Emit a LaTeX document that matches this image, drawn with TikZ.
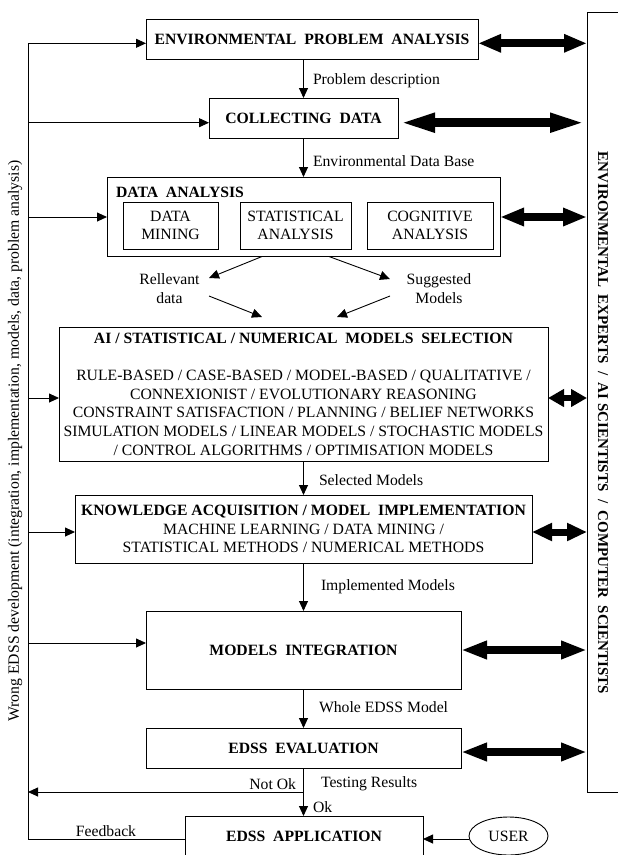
\documentclass[tikz,border=0pt]{standalone}
\usepackage{fontspec}
\setmainfont{Liberation Serif}
\usetikzlibrary{arrows.meta,shapes.geometric,calc}
\begin{document}
\begin{tikzpicture}[x=1pt,y=-1pt,
  every node/.style={font=\fontsize{15.7}{18.7}\selectfont, inner sep=0pt, outer sep=0pt},
  box/.style={draw, line width=0.9pt, align=center},
  lbl/.style={anchor=west},
  ln/.style={line width=0.9pt},
  arr/.style={line width=0.9pt, -{Triangle[length=10pt,width=9pt]}},
  dbl/.style={line width=8pt, {Triangle[length=#1,width=17pt]}-{Triangle[length=#1,width=17pt]}},
  dbl/.default=25pt]
\useasboundingbox (0,0) rectangle (618,855);

% right panel
\node[draw, line width=0.9pt, anchor=north west, minimum width=45pt, minimum height=779.3pt] (panel) at (587,12.7) {};
\node[rotate=-90, font=\fontsize{15}{18}\selectfont\bfseries] (paneltext) at (603,423)
  {ENVIRONMENTAL\ \ EXPERTS\ \ /\ \ AI SCIENTISTS\ \ /\ \ COMPUTER\ \ SCIENTISTS};

% left rotated text
\node[rotate=90] (wrong) at (15,441)
  {Wrong EDSS development (integration, implementation, models, data, problem analysis)};

% boxes
\node[box, minimum width=332pt, minimum height=40pt] (env) at (312,39)
  {\textbf{ENVIRONMENTAL\ \ PROBLEM\ \ ANALYSIS}};
\node[box, minimum width=189pt, minimum height=40pt] (coll) at (303.5,118)
  {\textbf{COLLECTING\ \ DATA}};
\node[box, minimum width=393pt, minimum height=79pt] (da) at (303.5,216.5) {};
\node[anchor=west] (datitle) at (116,192) {\textbf{DATA\ \ ANALYSIS}};
\node[box, minimum width=95pt, minimum height=47pt] (dm) at (170.5,225.5) {DATA\\MINING};
\node[box, minimum width=111pt, minimum height=47pt] (sa) at (295.5,225.5) {STATISTICAL\\ANALYSIS};
\node[box, minimum width=126pt, minimum height=47pt] (ca) at (430,225.5) {COGNITIVE\\ANALYSIS};

\node[align=center] (rel) at (169.5,288.5) {Rellevant\\data};
\node[align=center] (sug) at (439,288.5) {Suggested\\Models};

\node[box, minimum width=489pt, minimum height=134pt] (ai) at (303.5,394)
  {\textbf{AI / STATISTICAL / NUMERICAL\ \ MODELS\ \ SELECTION}\\[18.7pt]
   RULE-BASED / CASE-BASED / MODEL-BASED / QUALITATIVE /\\
   CONNEXIONIST / EVOLUTIONARY REASONING\\
   CONSTRAINT SATISFACTION / PLANNING / BELIEF NETWORKS\\
   SIMULATION MODELS / LINEAR MODELS / STOCHASTIC MODELS\\
   / CONTROL ALGORITHMS / OPTIMISATION MODELS};
\node[box, minimum width=457pt, minimum height=68pt] (kn) at (303.5,529)
  {\textbf{KNOWLEDGE ACQUISITION / MODEL\ \ IMPLEMENTATION}\\
   MACHINE LEARNING / DATA MINING /\\
   STATISTICAL METHODS / NUMERICAL METHODS};
\node[box, minimum width=315pt, minimum height=78pt] (mi) at (303.5,650)
  {\textbf{MODELS\ \ INTEGRATION}};
\node[box, minimum width=315pt, minimum height=40pt] (ev) at (303.5,748)
  {\textbf{EDSS\ \ EVALUATION}};
\node[box, minimum width=238pt, minimum height=40pt] (app) at (304,836)
  {\textbf{EDSS\ \ APPLICATION}};
\node[draw, line width=0.9pt, ellipse, minimum width=79pt, minimum height=38pt] (user) at (508.5,836) {USER};

% labels on main flow
\node[lbl] (l1) at (313,81) {Problem description};
\node[lbl] (l2) at (313,161) {Environmental Data Base};
\node[lbl] (l3) at (319,480) {Selected Models};
\node[lbl] (l4) at (321,587) {Implemented Models};
\node[lbl] (l5) at (319,707) {Whole EDSS Model};
\node[lbl] (l6) at (321,784) {Testing Results};
\node[anchor=east] (l7) at (296,784) {Not Ok};
\node[lbl] (l8) at (313,807) {Ok};
\node (l9) at (106,831) {Feedback};

% main vertical arrows
\draw[arr] (env.south -| coll.north) -- (coll.north);
\draw[arr] (coll.south) -- (da.north);
\draw[arr] (ai.south) -- (kn.north);
\draw[arr] (kn.south) -- (mi.north);
\draw[arr] (mi.south) -- (ev.north);
\draw[arr] (ev.south) -- (app.north -| ev.south);

% diagonal arrows
\coordinate (d1s) at (262,256.5); \coordinate (d1e) at (209,278);
\coordinate (d2s) at (329,256.5); \coordinate (d2e) at (390,279);
\coordinate (d3s) at (209,296);   \coordinate (d3e) at (262,317);
\coordinate (d4s) at (390,296);   \coordinate (d4e) at (337,317);
\draw[arr] (d1s) -- (d1e);
\draw[arr] (d2s) -- (d2e);
\draw[arr] (d3s) -- (d3e);
\draw[arr] (d4s) -- (d4e);

% left feedback line and arrows
\coordinate (fb) at (28,839);
\coordinate (ltop) at (28,43.3);
\coordinate (lc) at (28,122.7);
\coordinate (lda) at (28,217);
\coordinate (lai) at (28,398);
\coordinate (lkn) at (28,532);
\coordinate (lmi) at (28,643);
\coordinate (nok) at (303.5,792);
\draw[arr] (app.west |- fb) -- (fb) -- (ltop) -- (ltop -| env.west);
\draw[arr] (lc) -- (lc -| coll.west);
\draw[arr] (lda) -- (lda -| da.west);
\draw[arr] (lai) -- (lai -| ai.west);
\draw[arr] (lkn) -- (lkn -| kn.west);
\draw[arr] (lmi) -- (lmi -| mi.west);
\draw[arr] (nok) -- (nok -| fb);
\draw[arr] (user.west |- fb) -- (app.east |- fb);

% thick double arrows to the panel
\coordinate (r1) at (0,43.3);
\coordinate (r2) at (0,122.7);
\coordinate (r3) at (0,217);
\coordinate (r4) at (0,398);
\coordinate (r5) at (0,532);
\coordinate (r6) at (0,650);
\coordinate (r7) at (0,752);
\draw[dbl=23pt] (r1 -| env.east) -- (r1 -| panel.west);
\draw[dbl=37pt, line width=9pt] (r2 -| coll.east) -- (r2 -| panel.west);
\draw[dbl=24pt] (r3 -| da.east) -- (r3 -| panel.west);
\draw[dbl=16pt, line width=6pt] (r4 -| ai.east) -- (r4 -| panel.west);
\draw[dbl=20pt, line width=7pt] (r5 -| kn.east) -- (r5 -| panel.west);
\draw[dbl=26pt] (r6 -| mi.east) -- (r6 -| panel.west);
\draw[dbl=26pt] (r7 -| ev.east) -- (r7 -| panel.west);
\end{tikzpicture}
\end{document}
